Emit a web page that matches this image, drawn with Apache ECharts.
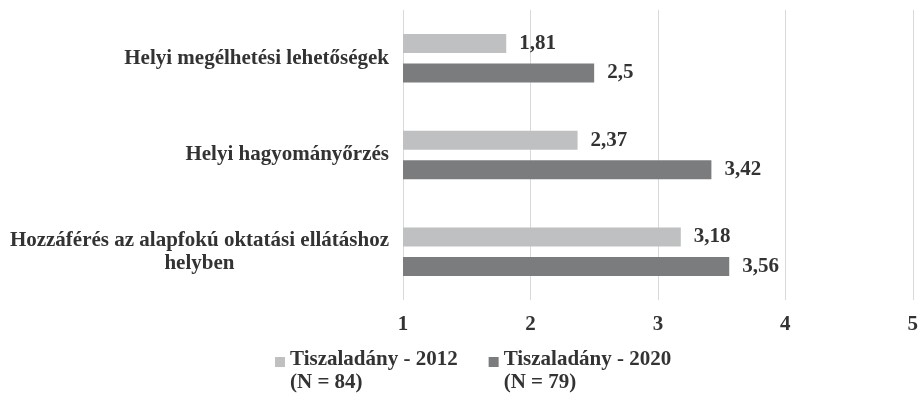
<!DOCTYPE html>
<html>
<head>
<meta charset="utf-8">
<script src="https://cdn.jsdelivr.net/npm/echarts@6/dist/echarts.min.js"></script>
<style>
  html, body { margin: 0; padding: 0; background: #fff; }
  #chart { width: 921px; height: 401px; }
</style>
</head>
<body>
<div id="chart"></div>
<script>
// kategóriák (alulról felfelé, ahogy az echarts rajzolja)
var categories = [
  "Hozzáférés az alapfokú oktatási ellátáshoz\nhelyben",
  "Helyi hagyományőrzés",
  "Helyi megélhetési lehetőségek"
];
var seriesNames = ["Tiszaladány - 2012\n(N = 84)", "Tiszaladány - 2020\n(N = 79)"];
var values2012 = [3.18, 2.37, 1.81];
var values2020 = [3.56, 3.42, 2.5];
var xTicks = [1, 2, 3, 4, 5];

var font = "Liberation Serif";
var textColor = "#333333";
var fs = 21;

var myChart = echarts.init(document.getElementById("chart"));

function makeSeries(name, data, color) {
  return {
    name: name,
    type: "bar",
    data: data,
    barWidth: 19,
    barGap: "55%",
    itemStyle: { color: color },
    label: {
      show: true,
      position: "right",
      distance: 13,
      fontFamily: font,
      fontWeight: "bold",
      fontSize: fs,
      color: textColor,
      formatter: function(p) {
        return String(p.value).replace(".", ",");
      }
    }
  };
}

var option = {
  animation: false,
  grid: { left: 403, right: 8, top: 10, bottom: 101 },
  legend: {
    bottom: 2,
    left: 270,
    itemWidth: 10,
    itemHeight: 28,
    itemGap: 31,
    // négyzet a felső sorhoz igazítva
    icon: "path://M0,0L10,0L10,10L0,10Z M0,28L0.01,28L0.01,28.01Z",
    data: seriesNames,
    textStyle: {
      fontFamily: font,
      fontWeight: "bold",
      fontSize: fs,
      color: textColor,
      lineHeight: 23
    }
  },
  xAxis: {
    type: "value",
    min: xTicks[0],
    max: xTicks[xTicks.length - 1],
    interval: 1,
    axisLine: { show: false },
    axisTick: { show: false },
    splitLine: { lineStyle: { color: "#d9d9d9", width: 1 } },
    axisLabel: {
      margin: 14,
      fontFamily: font,
      fontWeight: "bold",
      fontSize: fs,
      color: textColor
    }
  },
  yAxis: {
    type: "category",
    data: categories,
    axisLine: { show: false },
    axisTick: { show: false },
    axisLabel: {
      margin: 14,
      fontFamily: font,
      fontWeight: "bold",
      fontSize: fs,
      color: textColor,
      formatter: function(v) {
        return v.split("\n").map(function(s) { return "{a|" + s + "}"; }).join("\n");
      },
      rich: {
        a: {
          align: "center",
          fontFamily: font,
          fontWeight: "bold",
          fontSize: fs,
          color: textColor,
          lineHeight: 23
        }
      }
    }
  },
  series: [
    makeSeries(seriesNames[0], values2012, "#bfc0c2"),
    makeSeries(seriesNames[1], values2020, "#7b7c7e")
  ]
};

myChart.setOption(option);
</script>
</body>
</html>
